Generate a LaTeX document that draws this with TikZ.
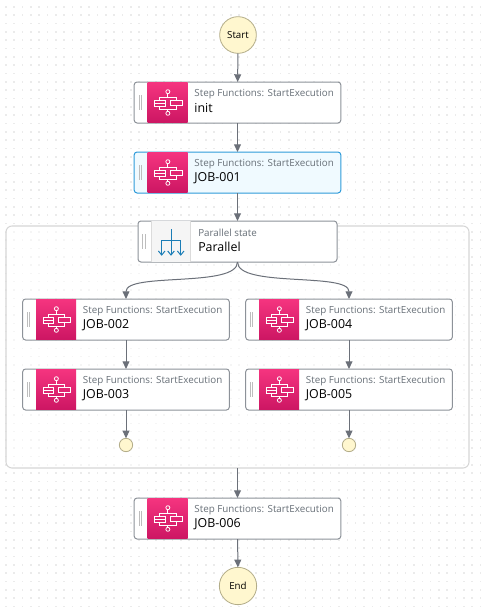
\documentclass[tikz,border=0pt]{standalone}
\usepackage{fontspec}
\setmainfont{Open Sans}
\usetikzlibrary{arrows.meta,positioning,calc}
\definecolor{edge}{HTML}{6B7079}
\definecolor{bordr}{HTML}{8D9299}
\definecolor{pinkA}{HTML}{F5347F}
\definecolor{pinkB}{HTML}{CC1663}
\definecolor{statefill}{HTML}{FFF7CF}
\definecolor{stateline}{HTML}{B3AD89}
\definecolor{titlegrey}{HTML}{687078}
\definecolor{selline}{HTML}{2E9BDA}
\definecolor{selfill}{HTML}{F0FAFF}
\definecolor{blueicon}{HTML}{1B7DB6}
\tikzset{
  x=0.75pt,y=-0.75pt,
  groupbox/.style={draw=black!16,line width=0.8pt,fill=white,fill opacity=0.5,rounded corners=4.5pt,minimum width=347.25pt,minimum height=181.5pt,inner sep=0pt,outer sep=0pt},
  taskbox/.style={draw=bordr,line width=0.75pt,rounded corners=2.2pt,fill=white,minimum width=155pt,minimum height=30.75pt,inner sep=0pt,outer sep=0pt},
  selbox/.style={taskbox,draw=selline,fill=selfill},
  parbox/.style={taskbox,minimum width=149.25pt},
  statenode/.style={circle,draw=stateline,line width=0.6pt,fill=statefill,inner sep=0pt,outer sep=0pt,font=\fontsize{7.3pt}{9pt}\selectfont},
  flow/.style={draw=edge,line width=0.75pt,-{Triangle[length=5.8pt,width=5.2pt,fill=edge]}},
  titlelab/.style={anchor=west,text=titlegrey,inner sep=0pt,font=\fontsize{7.35pt}{9pt}\selectfont},
  namelab/.style={anchor=west,text=black,inner sep=0pt,font=\fontsize{9.3pt}{11pt}\selectfont},
  grip/.style={draw=black!26,line width=0.6pt},
  iconline/.style={draw=white,line width=0.6pt},
}
\newcommand{\gripmark}[1]{%
  \draw[grip] ($(#1.west)+(4.8,-7.5)$) -- ($(#1.west)+(4.8,7.5)$) ($(#1.west)+(7.2,-7.5)$) -- ($(#1.west)+(7.2,7.5)$);
}
% optional style, node name, centre x, centre y, label
\newcommand{\taskcard}[5][taskbox]{%
  \node[#1] (#2) at (#3,#4) {};
  \gripmark{#2}
  \begin{scope}[shift={(#2.west)}]
    \shade[bottom color=pinkB,top color=pinkA] (13.5,-20.2) rectangle (53.5,20.2);
    \draw[iconline] (33.7,-10.8) circle (2) (33.7,10.8) circle (2);
    \draw[iconline] (33.7,-8.8) -- (33.7,-5.5) (33.7,8.8) -- (33.7,6.8);
    \draw[iconline] (25.3,-1.8) -- (25.3,-5.5) -- (42,-5.5) -- (42,-2.5);
    \draw[iconline] (25.3,3.5) -- (25.3,6.8) -- (42,6.8) -- (42,2.5);
    \draw[iconline] (20.3,-1.8) rectangle (31,3.5);
    \draw[iconline] (36,-2.5) rectangle (48,2.5);
    \draw[iconline] (20.3,0.8) -- (31,0.8);
    \node[titlelab] at (60,-8.4) {Step Functions: StartExecution};
    \node[namelab] at (60,5.8) {#5};
  \end{scope}
}
\begin{document}
\begin{tikzpicture}
\useasboundingbox (0,0) rectangle (481,607);
\fill[white] (0,0) rectangle (481,607);
% dot grid
\foreach \i in {0,...,57}{\foreach \j in {0,...,72}{
  \fill[black!8] (5+\i*8.33,6+\j*8.33) rectangle +(1.6,1.6);
}}
% group
\node[groupbox] (group) at (237.5,347) {};
% states
\node[statenode,minimum size=27.5pt] (start) at (238,35) {Start};
\node[statenode,minimum size=28pt] (end) at (238,586) {End};
\node[statenode,minimum size=10pt] (endl) at (126,445) {};
\node[statenode,minimum size=10pt] (endr) at (349,445) {};
% task cards
\taskcard{init}{237.5}{102.5}{init}
\taskcard[selbox]{job1}{237.5}{172.5}{JOB-001}
\taskcard{job2}{126}{319.5}{JOB-002}
\taskcard{job3}{126}{389.5}{JOB-003}
\taskcard{job4}{349}{319.5}{JOB-004}
\taskcard{job5}{349}{389.5}{JOB-005}
\taskcard{job6}{237.5}{518.5}{JOB-006}
% parallel
\node[parbox] (par) at (237.5,241.5) {};
\gripmark{par}
\begin{scope}[shift={(par.west)}]
  \fill[black!4] (13.7,-20.2) rectangle (52.7,20.2);
  \draw[black!14,line width=0.5pt] (13.7,-20.2) -- (13.7,20.2) (52.7,-20.2) -- (52.7,20.2);
  \begin{scope}[draw=blueicon,line width=0.75pt]
    \draw (33,-12.5) -- (33,13.5);
    \draw (23.7,13.5) -- (23.7,-1.5) -- (42.7,-1.5) -- (42.7,13.5);
    \foreach \xx in {23.7,33,42.7}{\draw (\xx-3.3,9.5) -- (\xx,13.5) -- (\xx+3.3,9.5);}
  \end{scope}
  \node[titlelab] at (60,-8.4) {Parallel state};
  \node[namelab] at (60,5) {Parallel};
\end{scope}
% connectors
\draw[flow] (start) -- (init);
\draw[flow] (init) -- (job1);
\draw[flow] (job1) -- (par);
\draw[flow] (par.south) .. controls (237.5,288) and (126,272) .. (job2.north);
\draw[flow] (par.south) .. controls (237.5,288) and (349,272) .. (job4.north);
\draw[flow] (job2) -- (job3);
\draw[flow] (job3) -- (endl);
\draw[flow] (job4) -- (job5);
\draw[flow] (job5) -- (endr);
\draw[flow] (group.south) -- (job6);
\draw[flow] (job6) -- (end);
\end{tikzpicture}
\end{document}
